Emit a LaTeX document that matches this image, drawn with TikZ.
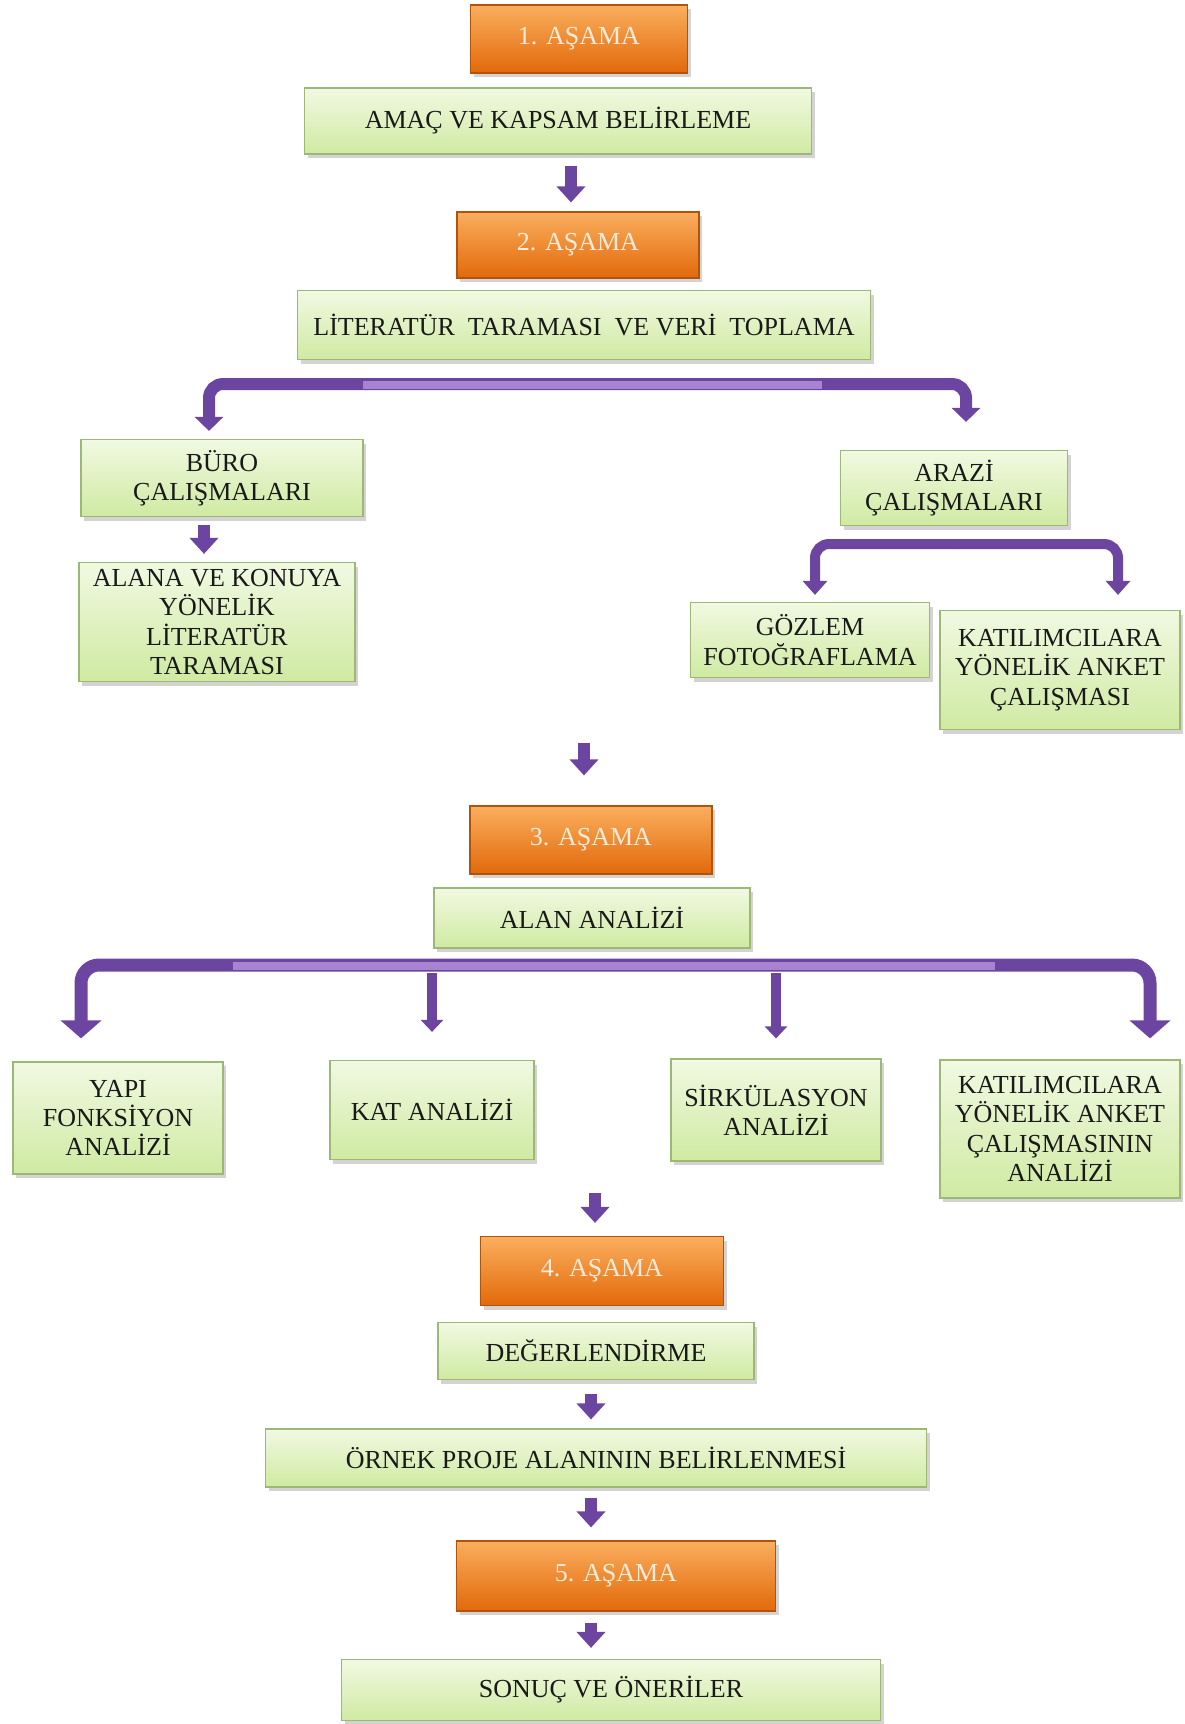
\documentclass[tikz,border=0pt]{standalone}
\usepackage{fontspec}
\setmainfont{Liberation Serif}
\usetikzlibrary{arrows.meta,shadows}

\definecolor{taskTop}{HTML}{F1F9E2}
\definecolor{taskBottom}{HTML}{CFEAA2}
\definecolor{taskLine}{HTML}{9DB874}
\definecolor{stageTop}{HTML}{FAAE5E}
\definecolor{stageBottom}{HTML}{E2690A}
\definecolor{stageLine}{HTML}{B35309}
\definecolor{stageText}{HTML}{FDEBDA}
\definecolor{flowPurple}{HTML}{6C45A0}
\definecolor{flowLight}{HTML}{A783D2}

\tikzset{
	box/.style={rectangle, line width=0.6pt, align=center, inner sep=2pt,
		font=\fontsize{13}{14.7}\selectfont,
		drop shadow={opacity=0.35, shadow xshift=1.5pt, shadow yshift=-2pt}},
	stage/.style={box, draw=stageLine, top color=stageTop, bottom color=stageBottom, text=stageText},
	task/.style={box, draw=taskLine, top color=taskTop, bottom color=taskBottom, text=black!90},
	smallarrow/.style={draw=flowPurple, line width=6pt, -{Triangle[width=14pt,length=8pt]}},
	bigarrow/.style={draw=flowPurple, line width=6pt, rounded corners=7pt, -{Triangle[width=14pt,length=7pt]}},
	subarrow/.style={draw=flowPurple, line width=5pt, rounded corners=7pt, -{Triangle[width=12pt,length=7pt]}},
	widearrow/.style={draw=flowPurple, line width=6.5pt, rounded corners=9pt, -{Triangle[width=20pt,length=9pt]}},
	thinarrow/.style={draw=flowPurple, line width=5pt, -{Triangle[width=11pt,length=6pt]}},
	gloss/.style={draw=flowLight, line width=4pt}
}

\begin{document}
\begin{tikzpicture}[x=0.5pt,y=-0.5pt]
	\useasboundingbox (0,0) rectangle (1184,1724);

	\draw (579,39) node [stage][minimum width=108.5pt, minimum height=34pt] (s1) {1. AŞAMA};
	\draw (558,121) node [task][minimum width=253.5pt, minimum height=33pt] (amac) {AMAÇ VE KAPSAM BELİRLEME};
	\draw (578,245) node [stage][minimum width=121pt, minimum height=33pt] (s2) {2. AŞAMA};
	\draw (584,325) node [task][minimum width=286.5pt, minimum height=34.5pt] (lit) {LİTERATÜR\ \ TARAMASI\ \ VE\ VERİ\ \ TOPLAMA};
	\draw (222,478) node [task][minimum width=141pt, minimum height=38.5pt] (buro) {BÜRO\\ÇALIŞMALARI};
	\draw (217,622) node [task][minimum width=138pt, minimum height=59.5pt] (alana) {ALANA VE KONUYA\\YÖNELİK\\LİTERATÜR\\TARAMASI};
	\draw (954,488) node [task][minimum width=113.5pt, minimum height=37.5pt] (arazi) {ARAZİ\\ÇALIŞMALARI};
	\draw (810,640) node [task][minimum width=119.5pt, minimum height=37.5pt] (gozlem) {GÖZLEM\\FOTOĞRAFLAMA};
	\draw (1060,670) node [task][minimum width=120pt, minimum height=59.5pt] (anket) {KATILIMCILARA\\YÖNELİK ANKET\\ÇALIŞMASI};
	\draw (591,840) node [stage][minimum width=121pt, minimum height=34pt] (s3) {3. AŞAMA};
	\draw (592,918) node [task][minimum width=158pt, minimum height=30pt] (alan) {ALAN ANALİZİ};
	\draw (118,1118) node [task][minimum width=105pt, minimum height=56pt] (yapi) {YAPI\\FONKSİYON\\ANALİZİ};
	\draw (432,1110) node [task][minimum width=102pt, minimum height=49.5pt] (kat) {KAT ANALİZİ};
	\draw (776,1110) node [task][minimum width=105pt, minimum height=51pt] (sirk) {SİRKÜLASYON\\ANALİZİ};
	\draw (1060,1129) node [task][minimum width=120pt, minimum height=69pt] (ankan) {KATILIMCILARA\\YÖNELİK ANKET\\ÇALIŞMASININ\\ANALİZİ};
	\draw (602,1271) node [stage][minimum width=121.5pt, minimum height=34.5pt] (s4) {4. AŞAMA};
	\draw (596,1351) node [task][minimum width=158pt, minimum height=28.5pt] (deger) {DEĞERLENDİRME};
	\draw (596,1458) node [task][minimum width=330.5pt, minimum height=29pt] (ornek) {ÖRNEK PROJE ALANININ BELİRLENMESİ};
	\draw (616,1576) node [stage][minimum width=159.5pt, minimum height=35pt] (s5) {5. AŞAMA};
	\draw (611,1690) node [task][minimum width=269.5pt, minimum height=30.5pt] (sonuc) {SONUÇ VE ÖNERİLER};

	\coordinate (bar1) at (584,384);
	\coordinate (bar2) at (954,544);
	\coordinate (bar3) at (592,965);
	\coordinate (into3) at (584,743);
	\coordinate (into4) at (595,1193);
	\coordinate (gloss1a) at (363,385);
	\coordinate (gloss1b) at (822,385);
	\coordinate (gloss3a) at (233,966);
	\coordinate (gloss3b) at (995,966);

	\draw [smallarrow, shorten <=5.5pt, shorten >=4.5pt] ([xshift=6.5pt]amac.south) -- ([xshift=-3.5pt]s2.north);
	\draw [bigarrow, shorten >=4pt] (bar1) -| ([xshift=-6.5pt]buro.north);
	\draw [bigarrow, shorten >=14pt] (bar1) -| ([xshift=6pt]arazi.north);
	\draw [gloss] (gloss1a) -- (gloss1b);
	\draw [smallarrow, shorten <=4pt, shorten >=4pt] ([xshift=-9pt]buro.south) -- ([xshift=-6.5pt]alana.north);
	\draw [subarrow, shorten >=3.5pt] (bar2) -| ([xshift=2.5pt]gozlem.north);
	\draw [subarrow, shorten >=7.5pt] (bar2) -| ([xshift=29pt]anket.north);
	\draw [smallarrow, shorten >=15pt] (into3) -- ([xshift=-3.5pt]s3.north);
	\draw [widearrow, shorten >=11.5pt] (bar3) -| ([xshift=-18.5pt]yapi.north);
	\draw [widearrow, shorten >=10.5pt] (bar3) -| ([xshift=45pt]ankan.north);
	\draw [thinarrow, shorten <=4pt, shorten >=14pt] (bar3 -| kat.north) -- (kat.north);
	\draw [thinarrow, shorten <=4pt, shorten >=10pt] (bar3 -| sirk.north) -- (sirk.north);
	\draw [gloss] (gloss3a) -- (gloss3b);
	\draw [smallarrow, shorten >=6.5pt] (into4) -- ([xshift=-3.5pt]s4.north);
	\draw [smallarrow, shorten <=7pt, shorten >=4.5pt] ([xshift=-2.5pt]deger.south) -- ([xshift=-2.5pt]ornek.north);
	\draw [smallarrow, shorten <=5pt, shorten >=6.5pt] ([xshift=-2.5pt]ornek.south) -- ([xshift=-12.5pt]s5.north);
	\draw [smallarrow, shorten <=5.5pt, shorten >=5.5pt] ([xshift=-12.5pt]s5.south) -- ([xshift=-10pt]sonuc.north);
\end{tikzpicture}
\end{document}
